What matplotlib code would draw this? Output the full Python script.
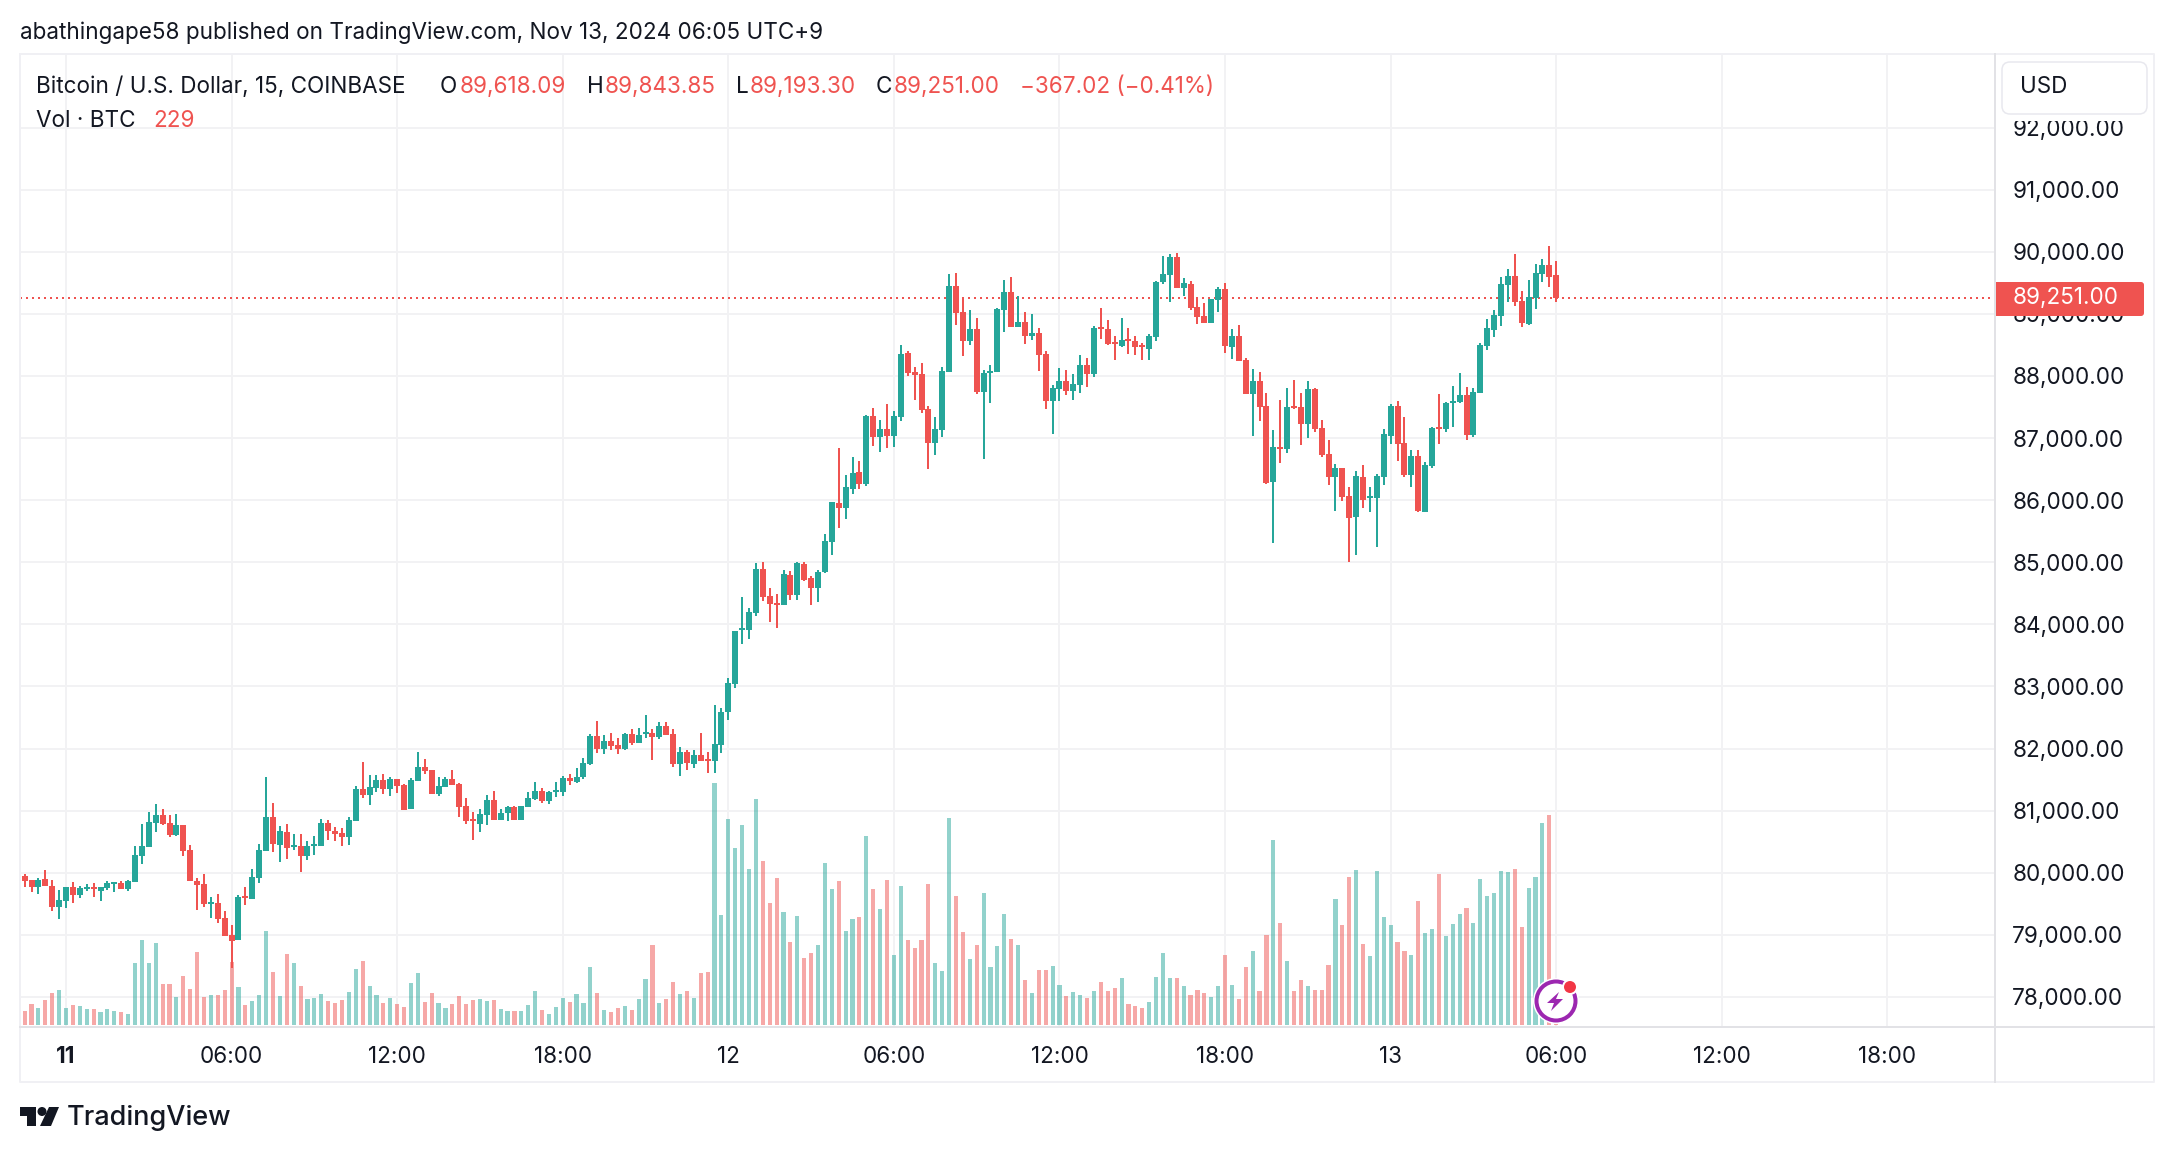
import numpy as np
import matplotlib.pyplot as plt
from matplotlib.patches import Rectangle, FancyBboxPatch, Circle, Polygon

plt.rcParams['font.family'] = ['Inter', 'DejaVu Sans']

# 15 min bars, bar number counted from 00:00 on the 11th
first_bar = -7
opens = [79745,79944,79879,79772,79895,79783,79444,79541,79766,79638,
         79734,79766,79702,79750,79815,79831,79734,79847,80266,80411,
         80798,80926,80798,80604,80765,80362,79863,79815,79493,79509,
         79267,78993,78913,79621,79573,79911,80346,80894,80443,80652,
         80411,80427,80266,80427,80427,80798,80669,80636,80572,80830,
         81345,81249,81361,81490,81345,81506,81410,81023,81474,81700,
         81651,81265,81377,81506,81426,81071,80862,80781,80926,81168,
         80846,80959,81055,80846,81055,81184,81313,81152,81297,81297,
         81522,81458,81539,81748,82199,81990,82118,82054,81990,82231,
         82086,82231,82247,82183,82360,82231,81748,81941,81748,81893,
         81829,81801,82056,82589,83038,83909,83909,84180,84890,84452,
         84341,84314,84791,84469,84968,84746,84585,84841,85323,85950,
         85872,86177,86449,86260,87353,87015,87143,87032,87337,88368,
         88063,88030,87464,86921,87126,88069,89445,89029,88563,88757,
         87742,88047,88063,89062,89350,88790,88868,88640,88690,88352,
         87597,87786,87919,87758,87853,88174,88030,88784,88757,88546,
         88479,88596,88563,88496,88435,88624,89511,89628,89916,89417,
         89478,89112,88962,88851,89223,89400,88465,88642,88256,87708,
         87917,87515,86290,86854,86822,87515,87499,87225,87788,87160,
         86741,86371,86516,86065,85726,86371,86033,86033,86371,87031,
         87515,86919,86403,86709,85807,86548,87176,87144,87563,87579,
         87692,87047,87724,88481,88739,88965,89464,89609,89206,88836,
         89254,89641,89786,89618.09]
highs = [79933,79976,79879,79911,80040,79879,79718,79766,79847,79783,
         79815,79831,79766,79863,79847,79863,79879,80427,80781,80975,
         81104,81023,80926,80942,80765,80443,79911,79976,79605,79654,
         79380,79154,79638,79766,80056,80459,81539,81120,80749,80781,
         80620,80620,80507,80588,80862,80846,80733,80717,80894,81394,
         81780,81571,81571,81587,81539,81506,81426,81522,81941,81829,
         81651,81539,81539,81651,81442,81200,80975,81023,81249,81313,
         81023,81071,81071,81071,81297,81458,81361,81313,81458,81555,
         81587,81684,81845,82231,82441,82215,82247,82167,82247,82312,
         82328,82537,82312,82425,82425,82312,82022,81974,81974,82247,
         81941,82694,82650,83132,83892,84436,84258,84985,85001,84585,
         84486,84874,84857,85001,85001,84774,84874,85451,85967,86837,
         86405,86693,86627,87370,87481,87287,87548,87437,88496,88402,
         88141,88208,87514,87337,88141,89639,89655,89256,89062,88934,
         88097,88174,89095,89544,89594,89284,89029,88995,88773,88402,
         87853,88124,88097,88030,88335,88285,88801,89095,88901,88640,
         88934,88773,88640,88529,88674,89528,89933,89960,89977,89578,
         89528,89256,89173,89239,89434,89496,88755,88820,88288,88111,
         88062,87724,87128,87611,87805,87934,87724,87917,87805,87289,
         86967,86580,86516,86210,86468,86564,86210,86419,87144,87547,
         87595,87337,86806,86806,86612,87176,87708,87579,87837,88046,
         87821,87805,88530,88916,89061,89593,89722,89963,89367,89545,
         89802,89883,90092,89843.85]
lows = [79638,79772,79691,79659,79783,79385,79256,79433,79514,79595,
        79707,79611,79546,79723,79691,79734,79707,79847,80142,80411,
        80652,80765,80572,80588,80266,79863,79396,79444,79267,79186,
        78977,78462,78913,79476,79573,79831,80346,80330,80169,80218,
        80362,80008,80201,80282,80427,80524,80507,80427,80443,80830,
        81200,81087,81297,81265,81232,81281,81007,81023,81474,81587,
        81265,81232,81377,81410,80894,80781,80524,80652,80765,80846,
        80846,80830,80846,80846,81055,81168,81120,81104,81216,81232,
        81410,81442,81506,81732,81925,81909,81974,81909,81974,82054,
        82086,82167,81812,82151,82215,81700,81555,81651,81684,81796,
        81603,81607,81928,82455,82977,83687,83759,84136,84380,84036,
        83942,84314,84391,84391,84696,84314,84358,84824,85112,85550,
        85695,86094,86177,86227,86871,86771,86837,86854,87270,88002,
        87608,87403,86505,86727,87015,88069,88818,88318,88496,87708,
        86660,87564,88063,88707,88790,88790,88513,88579,88080,87464,
        87065,87597,87692,87608,87725,87819,87980,88596,88496,88258,
        88463,88352,88335,88258,88258,88563,89478,89189,89417,89284,
        89062,88834,88851,88851,89029,88368,88272,88240,87708,87031,
        87273,86258,85308,86596,86757,87466,86886,87000,87096,86693,
        86242,85823,85984,85001,85114,85871,85807,85243,86242,86902,
        86629,86371,86210,85807,85807,86516,86902,87096,87176,87563,
        86967,87015,87724,88417,88626,88803,89190,89126,88787,88820,
        89077,89512,89432,89193.30]
closes = [79906,79863,79772,79879,79783,79444,79557,79766,79638,79750,
          79766,79734,79766,79831,79847,79734,79863,80282,80427,80814,
          80926,80781,80604,80765,80346,79863,79799,79493,79525,79251,
          78977,78897,79605,79589,79928,80362,80894,80459,80669,80395,
          80443,80266,80427,80459,80798,80669,80620,80572,80846,81345,
          81249,81377,81490,81345,81506,81394,81007,81490,81700,81635,
          81265,81394,81506,81410,81055,80830,80830,80942,81168,80846,
          80959,81055,80846,81071,81200,81313,81152,81297,81329,81522,
          81474,81539,81764,82199,81990,82118,82038,81990,82231,82086,
          82215,82263,82183,82360,82215,81748,81941,81764,81893,81796,
          81796,82067,82594,83054,83892,83936,84197,84890,84441,84330,
          84314,84807,84469,84985,84713,84585,84841,85340,85967,85872,
          86211,86433,86260,87353,87015,87143,87032,87353,88352,88047,
          88013,87448,86921,87143,88080,89445,89012,88563,88757,87742,
          88047,88080,89079,89350,88790,88868,88640,88690,88335,87597,
          87803,87919,87758,87869,88174,88030,88773,88757,88513,88513,
          88579,88563,88463,88463,88640,89511,89639,89916,89417,89495,
          89095,88945,88851,89239,89400,88481,88642,88240,87708,87917,
          87499,86274,86854,86822,87499,87482,87225,87788,87144,86725,
          86371,86516,86049,85710,86387,86000,86065,86387,87064,87515,
          86902,86403,86709,85823,86564,87160,87144,87563,87595,87692,
          87047,87740,88497,88771,88981,89480,89609,89190,88852,89271,
          89657,89786,89593,89251]
# volume pane has no scale of its own, heights are relative units read off the picture
volumes = [18.5,15.3,22.9,18.5,27.3,34.9,38.2,18.5,21.8,20.7,
           17.4,17.4,14.2,17.4,15.3,14.2,12,67.6,92.7,67.6,
           89.4,44.7,44.7,30.5,53.4,39.3,79.6,30.5,32.7,32.7,
           38.2,68.7,41.4,21.8,26.2,32.7,102.5,57.8,31.6,77.4,
           67.6,42.5,28.4,29.4,33.8,26.2,24,27.3,36,61,
           69.8,42.5,32.7,24,29.4,22.9,19.6,45.8,56.7,25.1,
           34.9,24,18.5,22.9,31.6,22.9,27.3,28.4,26.2,27.3,
           17,15.3,15.3,15.3,21.8,37,16.4,12,19.6,29.4,
           25.1,33.8,24,63.2,34.9,16.4,14.2,18.5,20.7,16.4,
           28.4,50.2,87.2,24,28.4,46.9,33.8,37,29.4,56.7,
           57.8,263.9,120,224.6,193,218,170,246.5,178.8,133,
           160.3,123.2,90.5,118.9,73,78.5,87.2,176.7,148.3,157,
           102.5,115.6,117.8,206,148.3,126.5,158,76.3,151.6,92.7,
           84,92.7,153.8,67.6,58.9,225.7,140.7,101.4,72,87.2,
           144,63.2,86.1,121,93.8,87.2,49,34.9,60,60,
           64.3,43.6,31.6,36,32.7,29.4,37,46.9,37,40.3,
           51.3,22.9,20.7,18.5,25.1,52.3,78.5,51.3,51.3,42.5,
           32.7,38.2,34.9,30.5,42.5,76.3,43.6,28.4,63.2,80.7,
           37,98.1,201.7,111.2,69.8,37,49,42.5,38.2,38.2,
           65.4,137.4,109,161.4,169,88.3,75.2,168,117.8,109,
           90.5,80.7,76.3,135.2,100.3,104.7,164.7,97,110,121,
           127.6,111.2,159.2,140.7,144,168,166.8,170,106.9,149.4,
           161.4,220.3,229,33]

price_ticks = list(range(78000, 93000, 1000))
time_ticks = [0, 24, 48, 72, 96, 120, 144, 168, 192, 216, 240, 264]
time_labels = ["11", "06:00", "12:00", "18:00", "12", "06:00", "12:00", "18:00", "13", "06:00", "12:00", "18:00"]
last_price = 89251.00

UP = "#26a69a"
DOWN = "#ef5350"
INK = "#131722"
GRID = "#f2f2f4"
AXIS = "#e2e2e6"
FRAME = "#f0f0f4"
W, H = 2174, 1152
PX = 72 / 100  # one pixel in points

fig = plt.figure(figsize=(W / 100, H / 100), dpi=100, facecolor="white")

def pane(x0, y0, x1, y1):
    return fig.add_axes([x0 / W, 1 - y1 / H, (x1 - x0) / W, (y1 - y0) / H])

# price axes holds grid and tick labels, volume and candles sit on twins above it
ax = pane(20, 54, 1995, 1027)
ax.set_xlim(-6.67, 279.6)
ax.set_ylim(77515, 93185)
ax.set_xticks(time_ticks, time_labels, fontsize=16.2, color=INK)
ax.set_yticks(price_ticks, [f"{p:,.2f}" for p in price_ticks], fontsize=16.2, color=INK)
ax.yaxis.set_ticks_position("right")
ax.tick_params(axis="both", length=0)
ax.tick_params(axis="x", pad=14)
ax.tick_params(axis="y", pad=12.5)
ax.get_xticklabels()[0].set_fontweight("bold")
ax.grid(True, color=GRID, lw=2 * PX)
ax.set_axisbelow(True)
for s in ax.spines.values():
    s.set_visible(False)

bars = np.arange(first_bar, first_bar + len(opens))
o, h, l, c = map(np.array, (opens, highs, lows, closes))
colors = np.where(c >= o, UP, DOWN)

ax_vol = ax.twinx()
ax_vol.set_ylim(-2.2, 1058)
ax_vol.bar(bars, volumes, width=0.6, color=list(colors), alpha=0.5, lw=0)
ax_vol.axis("off")

ax_c = ax.twinx()
ax_c.set_ylim(ax.get_ylim())
ax_c.axis("off")
ax.yaxis.set_ticks_position("right")
ax_c.axhline(last_price, color=DOWN, lw=2 * PX, linestyle=(0, (1, 2)), zorder=1)
ax_c.vlines(bars, l, h, colors=list(colors), lw=2 * PX, zorder=2)
ax_c.bar(bars, np.abs(c - o), bottom=np.minimum(o, c), width=0.87, color=list(colors), lw=0, zorder=3)

# overlay in pixel coordinates for the frame, legend and badges
ov = fig.add_axes([0, 0, 1, 1], zorder=5)
ov.set_xlim(0, W)
ov.set_ylim(H, 0)
ov.axis("off")

ov.add_patch(Rectangle((1997, 55), 156, 66, fc="white", ec="none"))
ov.plot([20, 2154, 2154, 20, 20], [54, 54, 1082, 1082, 54], color=FRAME, lw=2 * PX)
ov.plot([1995, 1995], [54, 1082], color=AXIS, lw=2 * PX)
ov.plot([20, 2154], [1027, 1027], color=AXIS, lw=2 * PX)

ov.add_patch(FancyBboxPatch((2010, 70), 129, 36, boxstyle="round,pad=0,rounding_size=0", fc="none", ec="none"))
ov.add_patch(FancyBboxPatch((2010, 70), 129, 36, boxstyle="round,pad=8,rounding_size=8", fc="white", ec="#e8e8ee", lw=1.5 * PX))
ov.text(2020.5, 87, "USD", fontsize=16.2, color=INK, va="center")

ov.add_patch(FancyBboxPatch((1999, 285), 142, 28, boxstyle="round,pad=3,rounding_size=3", fc=DOWN, ec="none"))
ov.add_patch(Rectangle((1996, 282), 6, 34, fc=DOWN, ec="none"))
ov.text(2013, 298.5, f"{last_price:,.2f}", fontsize=16.2, color="white", va="center")

ov.text(20, 33, "abathingape58 published on TradingView.com, Nov 13, 2024 06:05 UTC+9", fontsize=16.2, color=INK, va="center")

legend = [(36, "Bitcoin / U.S. Dollar, 15, COINBASE", INK), (440, "O", INK), (460, "89,618.09", DOWN),
          (587, "H", INK), (605, "89,843.85", DOWN), (735.5, "L", INK), (750, "89,193.30", DOWN),
          (875.5, "C", INK), (893.5, "89,251.00", DOWN), (1020, "\u2212367.02 (\u22120.41%)", DOWN)]
for x, txt, col in legend:
    ov.text(x, 87, txt, fontsize=16.2, color=col, va="center")
ov.text(36, 121, "Vol \u00b7 BTC", fontsize=16.2, color=INK, va="center")
ov.text(153.5, 121, "229", fontsize=16.2, color=DOWN, va="center")

# TradingView logo
ov.add_patch(Polygon([(20, 1107), (36, 1107), (36, 1126), (27, 1126), (27, 1116), (20, 1116)], fc=INK, ec="none"))
ov.add_patch(Circle((42, 1111.5), 4.5, fc=INK, ec="none"))
ov.add_patch(Polygon([(49, 1107), (59, 1107), (51, 1126), (40, 1126)], fc=INK, ec="none"))
ov.text(67, 1118, "TradingView", fontsize=19.5, color=INK, va="center", fontweight="medium")

# purple lightning badge
ov.add_patch(Circle((1556, 1001), 23, fc="white", ec="none"))
ov.add_patch(Circle((1556, 1001), 19.5, fc="white", ec="#9c27b0", lw=4 * PX))
ov.add_patch(Polygon([(1559, 992), (1547, 1003), (1554, 1003), (1551, 1011), (1563, 999), (1556, 999)], fc="#9c27b0", ec="none"))
ov.add_patch(Circle((1570, 987), 7, fc="#f23645", ec="white", lw=2 * PX))

fig.savefig("out.png", dpi=100)
